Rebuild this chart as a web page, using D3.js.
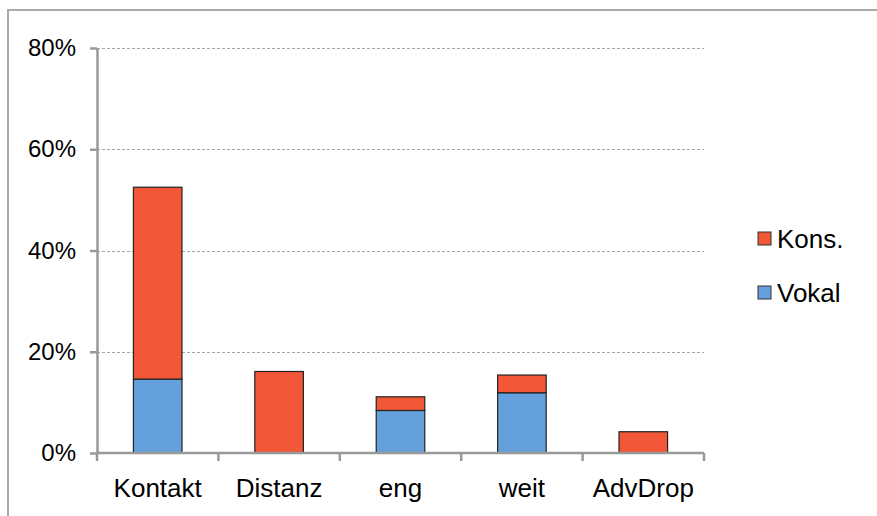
<!DOCTYPE html>
<html>
<head>
<meta charset="utf-8">
<script src="https://cdn.jsdelivr.net/npm/d3@7/dist/d3.min.js"></script>
<style>
  body { margin: 0; background: #fff; }
  svg { display: block; font-family: "Liberation Sans", Arial, Helvetica, sans-serif; }
</style>
</head>
<body>
<div id="chart"></div>
<script>
// chart data
const categories = ['Kontakt', 'Distanz', 'eng', 'weit', 'AdvDrop'];
const vokal = [14.6, 0, 8.4, 11.9, 0];
const kons = [37.9, 16.1, 2.7, 3.5, 4.2];
const yTicks = [0, 20, 40, 60, 80];
const seriesNames = ['Vokal', 'Kons.'];

const W = 877, H = 516;
const margin = { top: 48, left: 97, right: 173, bottom: 63 };
const plotW = W - margin.left - margin.right;
const plotH = H - margin.top - margin.bottom;

const colors = { 'Vokal': '#63a0dc', 'Kons.': '#f25737' };

const svg = d3.select('#chart').append('svg')
  .attr('width', W)
  .attr('height', H);

// outer frame
svg.append('path')
  .attr('d', `M8,${H} L8,10 L${W},10`)
  .attr('fill', 'none')
  .attr('stroke', '#aaa')
  .attr('stroke-width', 2);

const g = svg.append('g')
  .attr('transform', `translate(${margin.left},${margin.top})`);

const x = d3.scaleBand()
  .domain(categories)
  .range([0, plotW])
  .paddingInner(0.6)
  .paddingOuter(0.3);

const y = d3.scaleLinear()
  .domain([0, 80])
  .range([plotH, 0]);

// gridlines
g.selectAll('line.grid')
  .data(yTicks.filter(t => t > 0))
  .enter()
  .append('line')
  .attr('class', 'grid')
  .attr('x1', 0)
  .attr('x2', plotW)
  .attr('y1', d => Math.round(y(d)) + 0.5)
  .attr('y2', d => Math.round(y(d)) + 0.5)
  .attr('stroke', '#a6a6a6')
  .attr('stroke-dasharray', '3,2')
  .attr('stroke-width', 1);

// stacked bars
const rows = categories.map((c, i) => ({ cat: c, 'Vokal': vokal[i], 'Kons.': kons[i] }));
const stack = d3.stack().keys(seriesNames)(rows);

stack.forEach(layer => {
  g.selectAll(null)
    .data(layer.filter(d => d[1] - d[0] > 0))
    .enter()
    .append('rect')
    .attr('x', d => x(d.data.cat))
    .attr('y', d => y(d[1]))
    .attr('width', x.bandwidth())
    .attr('height', d => y(d[0]) - y(d[1]))
    .attr('fill', colors[layer.key])
    .attr('stroke', '#222')
    .attr('stroke-width', 1.2);
});

// y axis
const yAxis = g.append('g')
  .call(d3.axisLeft(y).tickValues(yTicks).tickFormat(d => d + '%').tickSize(7).tickSizeOuter(0));
yAxis.select('.domain').attr('stroke', '#999').attr('stroke-width', 2.5);
yAxis.selectAll('.tick line').attr('stroke', '#999').attr('stroke-width', 2.5);
yAxis.selectAll('.tick text')
  .attr('x', -21)
  .attr('font-size', 24)
  .attr('fill', '#000')
  .attr('font-family', '"Liberation Sans", Arial, sans-serif');

// x axis with ticks between categories
const xAxisG = g.append('g').attr('transform', `translate(0,${plotH})`);
xAxisG.append('line')
  .attr('x1', 0).attr('x2', plotW)
  .attr('y1', 0).attr('y2', 0)
  .attr('stroke', '#999').attr('stroke-width', 2.5);
xAxisG.selectAll('line.tick')
  .data(d3.range(categories.length + 1))
  .enter()
  .append('line')
  .attr('class', 'tick')
  .attr('x1', i => i * plotW / categories.length)
  .attr('x2', i => i * plotW / categories.length)
  .attr('y1', 0).attr('y2', 8)
  .attr('stroke', '#999').attr('stroke-width', 2.5);
xAxisG.selectAll('text')
  .data(categories)
  .enter()
  .append('text')
  .attr('x', d => x(d) + x.bandwidth() / 2)
  .attr('y', 44)
  .attr('text-anchor', 'middle')
  .attr('font-size', 26)
  .text(d => d);

// legend
const legend = svg.append('g').attr('transform', 'translate(758,232)');
['Kons.', 'Vokal'].forEach((name, i) => {
  const row = legend.append('g').attr('transform', `translate(0,${i * 54})`);
  row.append('rect')
    .attr('width', 13).attr('height', 13)
    .attr('fill', colors[name])
    .attr('stroke', '#333').attr('stroke-width', 1);
  row.append('text')
    .attr('x', 19).attr('y', 16)
    .attr('font-size', 26)
    .text(name);
});
</script>
</body>
</html>
